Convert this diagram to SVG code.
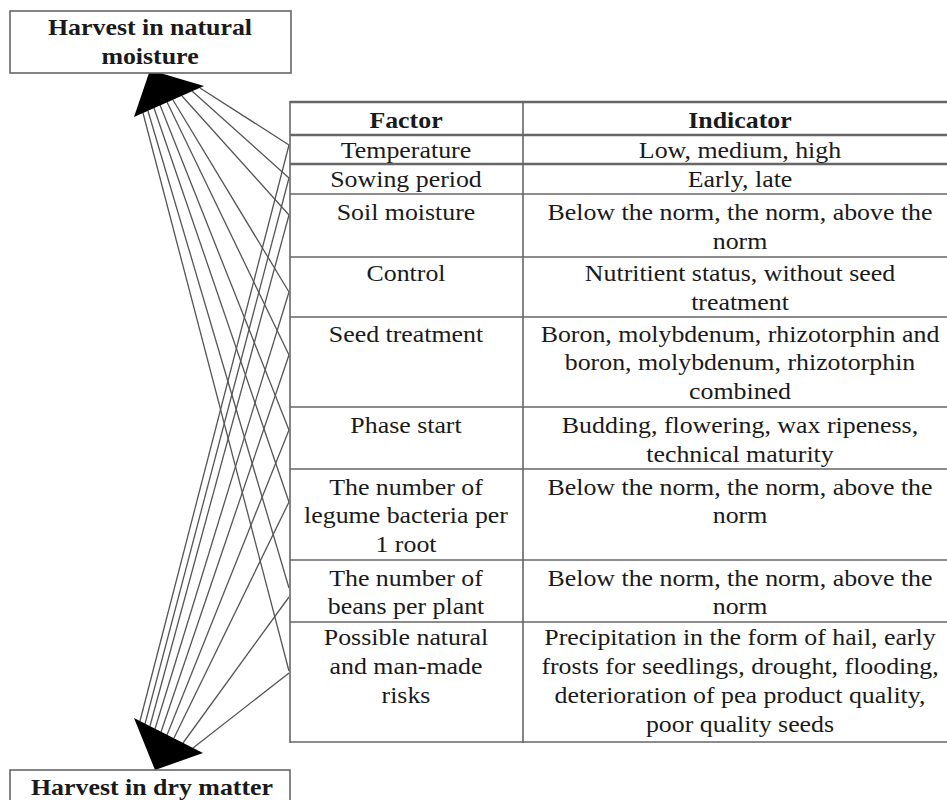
<svg xmlns="http://www.w3.org/2000/svg" width="947" height="800" viewBox="0 0 947 800">
<style>
text{font-family:"Liberation Serif","Times New Roman",serif;font-size:22.5px;fill:#1a1a1a;text-anchor:middle}
.b{font-weight:bold}
.box{fill:#fff;stroke:#666;stroke-width:1.6}
.grid{stroke:#666;stroke-width:1.6;fill:none}
.thick{stroke:#666;stroke-width:2.6}
.conn line{stroke:#555;stroke-width:1.3}
.head{fill:#000}
</style>
<rect width="947" height="800" fill="#fff"/>
<g id="connectors" class="conn">
<line x1="200" y1="88" x2="289" y2="145"/>
<line x1="192" y1="91" x2="289" y2="178"/>
<line x1="182" y1="96" x2="289" y2="215"/>
<line x1="173" y1="100" x2="289" y2="292"/>
<line x1="167" y1="102" x2="289" y2="355"/>
<line x1="160" y1="105" x2="289" y2="430"/>
<line x1="154" y1="108" x2="289" y2="502"/>
<line x1="148" y1="111" x2="289" y2="588"/>
<line x1="143" y1="113" x2="289" y2="671"/>
<line x1="140" y1="721" x2="289" y2="145"/>
<line x1="145" y1="724" x2="289" y2="178"/>
<line x1="150" y1="726" x2="289" y2="215"/>
<line x1="155" y1="729" x2="289" y2="292"/>
<line x1="161" y1="732" x2="289" y2="355"/>
<line x1="167" y1="735" x2="289" y2="430"/>
<line x1="174" y1="738" x2="289" y2="502"/>
<line x1="183" y1="743" x2="289" y2="597"/>
<line x1="193" y1="748" x2="289" y2="673"/>
<polygon class="head" points="150,70 134,117 204,86"/>
<polygon class="head" points="155,770 134,718 203,753"/>
</g>
<g id="node-natural">
<rect class="box" x="10" y="11" width="281" height="62"/>
<text class="b" transform="translate(150,35) scale(1.15,1)">Harvest in natural</text>
<text class="b" transform="translate(150,64) scale(1.15,1)">moisture</text>
</g>
<g id="node-dry">
<rect class="box" x="10" y="770" width="280" height="45"/>
<text class="b" transform="translate(152,795) scale(1.15,1)">Harvest in dry matter</text>
</g>
<g id="node-table">
<line class="thick" x1="290" y1="102" x2="960" y2="102"/>
<line class="thick" x1="290" y1="135" x2="960" y2="135"/>
<line class="thick" x1="290" y1="164" x2="960" y2="164"/>
<line class="grid" x1="290" y1="194" x2="960" y2="194"/>
<line class="grid" x1="290" y1="257" x2="960" y2="257"/>
<line class="grid" x1="290" y1="317" x2="960" y2="317"/>
<line class="grid" x1="290" y1="407" x2="960" y2="407"/>
<line class="grid" x1="290" y1="469" x2="960" y2="469"/>
<line class="grid" x1="290" y1="560" x2="960" y2="560"/>
<line class="grid" x1="290" y1="622" x2="960" y2="622"/>
<line class="grid" x1="290" y1="742" x2="960" y2="742"/>
<line class="grid" x1="290" y1="101" x2="290" y2="743"/>
<line class="grid" x1="523" y1="101" x2="523" y2="743"/>
<text class="b" transform="translate(406,128) scale(1.15,1)">Factor</text>
<text class="b" transform="translate(740,128) scale(1.15,1)">Indicator</text>
<text transform="translate(406,158) scale(1.15,1)">Temperature</text>
<text transform="translate(740,158) scale(1.15,1)">Low, medium, high</text>
<text transform="translate(406,187) scale(1.15,1)">Sowing period</text>
<text transform="translate(740,187) scale(1.15,1)">Early, late</text>
<text transform="translate(406,220) scale(1.15,1)">Soil moisture</text>
<text transform="translate(740,220) scale(1.15,1)">Below the norm, the norm, above the</text>
<text transform="translate(740,249) scale(1.15,1)">norm</text>
<text transform="translate(406,281) scale(1.15,1)">Control</text>
<text transform="translate(740,281) scale(1.15,1)">Nutritient status, without seed</text>
<text transform="translate(740,310) scale(1.15,1)">treatment</text>
<text transform="translate(406,342) scale(1.15,1)">Seed treatment</text>
<text transform="translate(740,342) scale(1.15,1)">Boron, molybdenum, rhizotorphin and</text>
<text transform="translate(740,370) scale(1.15,1)">boron, molybdenum, rhizotorphin</text>
<text transform="translate(740,399) scale(1.15,1)">combined</text>
<text transform="translate(406,433) scale(1.15,1)">Phase start</text>
<text transform="translate(740,433) scale(1.15,1)">Budding, flowering, wax ripeness,</text>
<text transform="translate(740,462) scale(1.15,1)">technical maturity</text>
<text transform="translate(406,495) scale(1.15,1)">The number of</text>
<text transform="translate(406,523) scale(1.15,1)">legume bacteria per</text>
<text transform="translate(406,552) scale(1.15,1)">1 root</text>
<text transform="translate(740,495) scale(1.15,1)">Below the norm, the norm, above the</text>
<text transform="translate(740,523) scale(1.15,1)">norm</text>
<text transform="translate(406,586) scale(1.15,1)">The number of</text>
<text transform="translate(406,614) scale(1.15,1)">beans per plant</text>
<text transform="translate(740,586) scale(1.15,1)">Below the norm, the norm, above the</text>
<text transform="translate(740,614) scale(1.15,1)">norm</text>
<text transform="translate(406,645) scale(1.15,1)">Possible natural</text>
<text transform="translate(406,674) scale(1.15,1)">and man-made</text>
<text transform="translate(406,703) scale(1.15,1)">risks</text>
<text transform="translate(740,645) scale(1.15,1)">Precipitation in the form of hail, early</text>
<text transform="translate(740,674) scale(1.15,1)">frosts for seedlings, drought, flooding,</text>
<text transform="translate(740,703) scale(1.15,1)">deterioration of pea product quality,</text>
<text transform="translate(740,732) scale(1.15,1)">poor quality seeds</text>
</g>
</svg>
